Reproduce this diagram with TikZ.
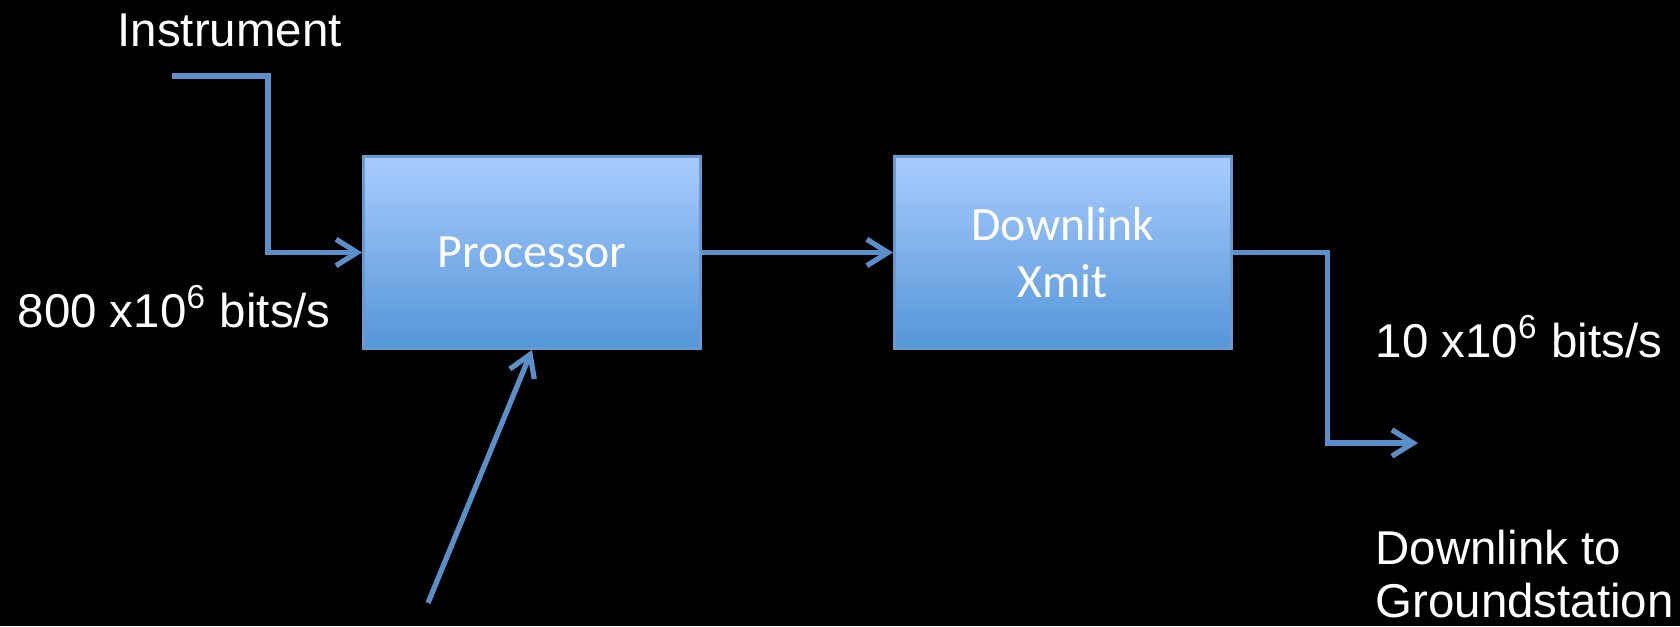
\documentclass[tikz,border=0pt]{standalone}
\usepackage{fontspec}
\setmainfont{Liberation Sans}
\newfontfamily\boxfont{Carlito}
\usepackage{xcolor}
\definecolor{skytop}{RGB}{169, 204, 255}
\definecolor{skybot}{RGB}{ 84, 150, 216}
\definecolor{skyline}{RGB}{106, 154, 208}
\definecolor{wire}{RGB}{ 91, 143, 201}
\usepackage{tikz}
\usetikzlibrary{arrows.meta, positioning, calc}
\tikzset{
  blockbox/.style={draw=skyline, line width=0.8pt,
    top color=skytop, bottom color=skybot,
    minimum width=3.37cm, minimum height=1.92cm, inner sep=0pt,
    text width=3.2cm, align=center, text=white,
    font=\boxfont\fontsize{13.6}{16.4}\selectfont},
  ratelabel/.style={text=white, inner sep=0pt, anchor=base west,
    font=\fontsize{13.5}{14.8}\selectfont},
  mainarrow/.style={-{Straight Barb[length=6pt,width=7.5pt]},
    line width=1.5pt, color=wire, line join=miter}
}
\begin{document}
\begin{tikzpicture}[node distance=1.0cm and 1.91cm]

  \fill[black] (0,0) rectangle (16.8,6.26);
  \useasboundingbox (0,0) rectangle (16.8,6.26);

  \node[blockbox] (proc) at (5.32,3.735) {\raisebox{-0.5ex}{Processor}};
  \node[blockbox, right=1.91cm of proc] (xmit) {Downlink\\Xmit};

  \node[ratelabel] (instr)   at (1.17,5.79)  {Instrument};
  \node[ratelabel] (rateIn)  at (0.17,2.99)  {800 x10\textsuperscript{6} bits/s};
  \node[ratelabel] (rateOut) at (13.75,2.69) {10 x10\textsuperscript{6} bits/s};
  \node[ratelabel, align=left] (ground) at (13.75,0.09) {Downlink to\\Groundstation};

  \coordinate (instrIn) at (1.72,5.50);
  \coordinate (cmdIn)   at (4.28,0.23);
  \coordinate (downOut) at (14.18,1.83);

  \draw[mainarrow] (instrIn) -- ++(0.96,0) |- (proc.west);
  \draw[mainarrow] (proc) -- (xmit);
  \draw[mainarrow] (cmdIn) -- (proc.south);
  \draw[mainarrow] (xmit.east) -- ++(0.95,0) |- (downOut);

\end{tikzpicture}
\end{document}
